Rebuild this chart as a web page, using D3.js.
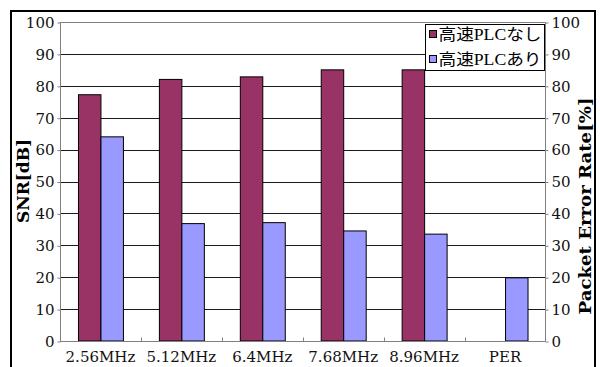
<!DOCTYPE html>
<html>
<head>
<meta charset="utf-8">
<script src="https://cdn.jsdelivr.net/npm/d3@7"></script>
<style>
  html, body { margin: 0; padding: 0; background: #fff; }
  svg { display: block; }
</style>
</head>
<body>
<svg id="chart" width="600" height="367"></svg>
<script>
// Categories along the x axis
const categories = ["2.56MHz", "5.12MHz", "6.4MHz", "7.68MHz", "8.96MHz", "PER"];
// Series names (legend)
const seriesNames = ["高速PLCなし", "高速PLCあり"];
// SNR [dB] without high-speed PLC (no PER value for this series)
const valuesWithout = [77.2, 82, 82.8, 85, 85, null];
// SNR [dB] with high-speed PLC; last entry is the packet error rate [%]
const valuesWith = [64, 36.8, 37.1, 34.5, 33.5, 19.8];
// Tick values shared by both vertical axes
const yTicks = [0, 10, 20, 30, 40, 50, 60, 70, 80, 90, 100];
const seriesColors = ["#993366", "#9999FF"];

const svg = d3.select("#chart");
const W = 600, H = 367;
const plot = { left: 60, right: 545.5, top: 22, bottom: 341 };

svg.append("rect").attr("width", W).attr("height", H).attr("fill", "#fff");

// Outer chart frame
svg.append("rect")
  .attr("x", 11).attr("y", 11)
  .attr("width", 584).attr("height", 400)
  .attr("fill", "#fff")
  .attr("stroke", "#000").attr("stroke-width", 2);

const x0 = d3.scaleBand().domain(categories).range([plot.left, plot.right]).padding(0);
const x1 = d3.scaleBand().domain(seriesNames).range([0, x0.bandwidth()])
  .paddingInner(0).paddingOuter(0.8);
const yL = d3.scaleLinear().domain([0, 100]).range([plot.bottom, plot.top]);
const yR = d3.scaleLinear().domain([0, 100]).range([plot.bottom, plot.top]);

const serif = "'DejaVu Serif', 'Liberation Serif', serif";

// Horizontal gridlines
svg.append("g").selectAll("line")
  .data(yTicks.filter(t => t > 0 && t < 100))
  .join("line")
  .attr("x1", plot.left).attr("x2", plot.right)
  .attr("y1", d => Math.round(yL(d)) + 0.5).attr("y2", d => Math.round(yL(d)) + 0.5)
  .attr("stroke", "#1a1a1a").attr("stroke-width", 1);

// Plot area border (top line)
svg.append("line")
  .attr("x1", plot.left).attr("x2", plot.right)
  .attr("y1", Math.round(yL(100)) + 0.5).attr("y2", Math.round(yL(100)) + 0.5)
  .attr("stroke", "#808080");

// Bars
const data = categories.map((c, i) => ({
  cat: c,
  vals: [valuesWithout[i], valuesWith[i]]
}));
const groups = svg.append("g").selectAll("g")
  .data(data).join("g")
  .attr("transform", d => `translate(${x0(d.cat)},0)`);
groups.selectAll("rect")
  .data(d => d.vals.map((v, j) => ({ name: seriesNames[j], v, j })).filter(e => e.v != null))
  .join("rect")
  .attr("x", e => x1(e.name) + 0.5)
  .attr("y", e => yL(e.v))
  .attr("width", x1.bandwidth())
  .attr("height", e => yL(0) - yL(e.v))
  .attr("fill", e => seriesColors[e.j])
  .attr("stroke", "#000").attr("stroke-width", 1);

// Left axis
const leftAxis = d3.axisLeft(yL).tickValues(yTicks).tickSize(3).tickPadding(3);
const gL = svg.append("g").attr("transform", `translate(${plot.left + 0.5},0.5)`).call(leftAxis);
gL.select(".domain").attr("stroke", "#808080").attr("d", `M0,${yL(0)}V${yL(100)}`);
gL.selectAll(".tick line").attr("stroke", "#808080");
gL.selectAll(".tick text").attr("font-family", serif).attr("font-size", 15).attr("fill", "#111");

// Right axis
const rightAxis = d3.axisRight(yR).tickValues(yTicks).tickSize(3).tickPadding(3);
const gR = svg.append("g").attr("transform", `translate(${plot.right},0.5)`).call(rightAxis);
gR.select(".domain").attr("stroke", "#808080").attr("d", `M0,${yR(0)}V${yR(100)}`);
gR.selectAll(".tick line").attr("stroke", "#808080");
gR.selectAll(".tick text").attr("font-family", serif).attr("font-size", 15).attr("fill", "#111");

// Bottom category axis with inward ticks at category boundaries
const gB = svg.append("g").attr("transform", `translate(0,${Math.round(plot.bottom) + 0.5})`);
gB.append("line").attr("x1", plot.left).attr("x2", plot.right)
  .attr("stroke", "#808080");
gB.selectAll("line.sep")
  .data(categories.slice(1))
  .join("line").attr("class", "sep")
  .attr("x1", d => Math.round(x0(d)) + 0.5).attr("x2", d => Math.round(x0(d)) + 0.5)
  .attr("y1", 0).attr("y2", -4)
  .attr("stroke", "#808080");
gB.selectAll("text")
  .data(categories)
  .join("text")
  .attr("x", d => x0(d) + x0.bandwidth() / 2)
  .attr("y", 20)
  .attr("text-anchor", "middle")
  .attr("font-family", serif).attr("font-size", 15).attr("fill", "#111")
  .text(d => d);

// Axis titles
svg.append("text")
  .attr("transform", "translate(29,181) rotate(-90)")
  .attr("text-anchor", "middle")
  .attr("font-family", serif).attr("font-size", 17).attr("font-weight", "bold")
  .attr("textLength", 84).attr("lengthAdjust", "spacingAndGlyphs")
  .text("SNR[dB]");
svg.append("text")
  .attr("transform", "translate(591,206) rotate(-90)")
  .attr("text-anchor", "middle")
  .attr("font-family", serif).attr("font-size", 17).attr("font-weight", "bold")
  .attr("textLength", 217).attr("lengthAdjust", "spacingAndGlyphs")
  .text("Packet Error Rate[%]");

// Legend
const lg = svg.append("g").attr("transform", "translate(425.5,24.5)");
lg.append("rect").attr("width", 119).attr("height", 46)
  .attr("fill", "#fff").attr("stroke", "#000").attr("stroke-width", 1);
const items = lg.selectAll("g.item").data(seriesNames).join("g")
  .attr("class", "item")
  .attr("transform", (d, i) => `translate(0,${10 + i * 25})`);
items.append("rect")
  .attr("x", 4).attr("y", -4).attr("width", 7).attr("height", 7)
  .attr("fill", (d, i) => seriesColors[i]).attr("stroke", "#000");
items.append("text")
  .attr("x", 13).attr("y", 0).attr("dy", "0.36em")
  .attr("font-family", "'Liberation Serif', 'Noto Sans CJK JP', serif")
  .attr("font-size", 16).attr("fill", "#000")
  .attr("textLength", 103).attr("lengthAdjust", "spacingAndGlyphs")
  .text(d => d);
</script>
</body>
</html>
